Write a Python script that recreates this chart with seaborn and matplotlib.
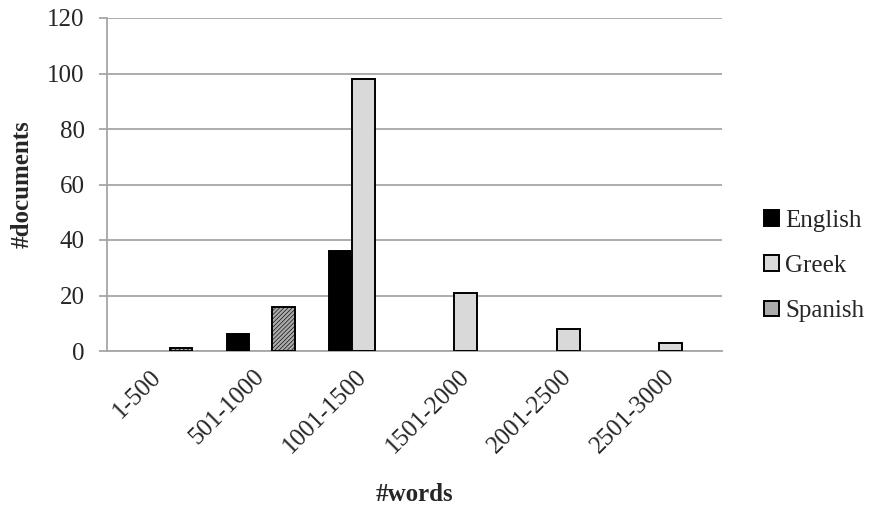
import matplotlib
matplotlib.use("Agg")
import matplotlib.pyplot as plt
import seaborn as sns
import pandas as pd
from matplotlib.ticker import FixedLocator

# Document length buckets and counts per language
word_ranges = ["1-500", "501-1000", "1001-1500", "1501-2000", "2001-2500", "2501-3000"]
english = [0, 6, 36, 0, 0, 0]
greek = [0, 0, 98, 21, 8, 3]
spanish = [1, 16, 0, 0, 0, 0]
languages = ["English", "Greek", "Spanish"]
y_ticks = [0, 20, 40, 60, 80, 100, 120]

rows = []
for lang, vals in zip(languages, [english, greek, spanish]):
    for rng, v in zip(word_ranges, vals):
        if v > 0:
            rows.append({"range": rng, "language": lang, "documents": v})
df = pd.DataFrame(rows)

sns.set_style("white")
plt.rcParams["font.family"] = ["Liberation Serif", "DejaVu Serif"]
plt.rcParams["hatch.linewidth"] = 0.45

grid_gray = "#a6a6a6"
fs = 18

fig = plt.figure(figsize=(8.71, 5.08), dpi=100)
ax = fig.add_axes([107 / 871, 1 - 351 / 508, (722 - 107) / 871, (351 - 18) / 508])

palette = {"English": "#000000", "Greek": "#d9d9d9", "Spanish": "#ababab"}
sns.barplot(data=df, x="range", y="documents", hue="language",
            order=word_ranges, hue_order=languages, palette=palette,
            width=0.66, gap=0, edgecolor="black", linewidth=1.4,
            saturation=1, ax=ax, legend=True, zorder=3)

# hatch the Spanish bars
for container, lang in zip(ax.containers, languages):
    if lang == "Spanish":
        for p in container:
            p.set_hatch("////////")

ax.set_ylim(0, 120)
ax.set_xlim(-0.5, len(word_ranges) - 0.5)
ax.set_yticks(y_ticks)
ax.set_yticklabels([str(t) for t in y_ticks], fontsize=fs)
ax.yaxis.grid(True, color=grid_gray, linewidth=1.3, zorder=0)
ax.set_axisbelow(True)

# category labels at centres, tick marks at boundaries
ax.set_xticks(range(len(word_ranges)))
ax.set_xticklabels(word_ranges, rotation=45, ha="right", va="center",
                   rotation_mode="anchor", fontsize=fs)
ax.xaxis.set_minor_locator(FixedLocator([i - 0.5 for i in range(len(word_ranges) + 1)]))
ax.tick_params(axis="x", which="major", length=0, pad=16)
ax.tick_params(axis="x", which="minor", length=6, width=1.3, color=grid_gray, direction="out")
ax.tick_params(axis="y", length=6, width=1.3, color=grid_gray, direction="out", pad=10, left=True)

for side in ["top", "right"]:
    ax.spines[side].set_visible(False)
for side in ["left", "bottom"]:
    ax.spines[side].set_color(grid_gray)
    ax.spines[side].set_linewidth(1.3)

ax.set_xlabel("#words", fontsize=fs, fontweight="bold")
ax.set_ylabel("#documents", fontsize=fs, fontweight="bold")
ax.xaxis.set_label_coords(0.5, -0.395)
ax.yaxis.set_label_coords(-0.12, 0.5)

handles, labels = ax.get_legend_handles_labels()
ax.legend_.remove()
fig.legend(handles, labels, loc="center left", bbox_to_anchor=(764 / 871, 1 - 266 / 508),
           frameon=False, fontsize=fs, handlelength=0.6, handleheight=0.6,
           handletextpad=0.25, labelspacing=0.93, borderpad=0, borderaxespad=0)

fig.savefig("out.png", dpi=100)
